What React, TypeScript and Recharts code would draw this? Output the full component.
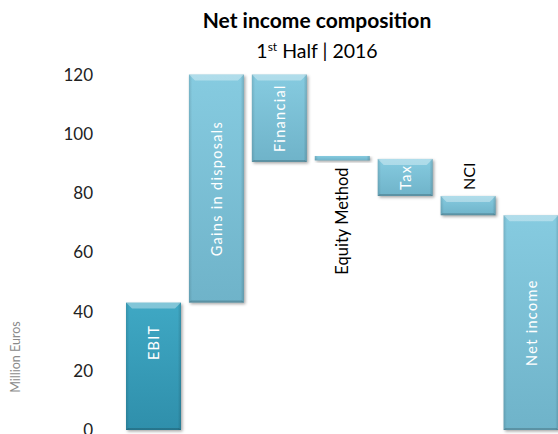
import React from 'react';
import { BarChart, Bar, XAxis, YAxis } from 'recharts';

const categories = ['EBIT', 'Gains in disposals', 'Financial', 'Equity Method', 'Tax', 'NCI', 'Net income'];
const barLow = [0, 43, 90.5, 91, 79, 72.5, 0];
const barHigh = [43, 120, 120, 92.5, 91.5, 79, 72.5];
const yTicks = [0, 20, 40, 60, 80, 100, 120];
// label placement: 'in' = white inside, 'below' / 'above' = black outside
const labelPlacement = ['in', 'in', 'in', 'below', 'in', 'above', 'in'];

const data = categories.map((name, i) => ({ name, range: [barLow[i], barHigh[i]], place: labelPlacement[i] }));

const FONT = 'Lato, "Open Sans", sans-serif';

const BevelBar = (props: any) => {
  const { x, y, width, height, index, payload } = props;
  if (width == null || height == null) return null;
  const h = Math.abs(height);
  const top = height < 0 ? y + height : y;
  const dark = index === 0;
  const grad = dark ? 'url(#gDark)' : 'url(#gLight)';
  const bev = Math.min(6, h / 3);
  const cx = x + width / 2;
  const cy = top + h / 2 + (index === 0 ? -24 : 0);
  let label: React.ReactNode = null;
  if (payload.place === 'in') {
    label = (
      <text x={cx} y={cy} transform={`rotate(-90 ${cx} ${cy})`} textAnchor="middle" dominantBaseline="central"
        fill="#ffffff" fontSize={14.5} letterSpacing={1.3} fontFamily={FONT}>{payload.name}</text>
    );
  } else if (payload.place === 'below') {
    const ty = top + h + 7;
    label = (
      <text x={cx} y={ty} transform={`rotate(-90 ${cx} ${ty})`} textAnchor="end" dominantBaseline="central"
        fill="#000000" fontSize={16.5} fontFamily={FONT}>{payload.name}</text>
    );
  } else if (payload.place === 'above') {
    const ty = top - 6;
    label = (
      <text x={cx} y={ty} transform={`rotate(-90 ${cx} ${ty})`} textAnchor="start" dominantBaseline="central"
        fill="#000000" fontSize={16} fontFamily={FONT}>{payload.name}</text>
    );
  }
  return (
    <g>
      <rect x={x + 1.5} y={top + 1.5} width={width} height={h} fill="rgba(0,0,0,0.35)" filter="url(#blur)" />
      <rect x={x} y={top} width={width} height={h} fill={grad} />
      <rect x={x} y={top} width={width} height={h} fill="url(#gSide)" />
      {h > 8 && (
        <>
          <polygon points={`${x},${top} ${x + width},${top} ${x + width - bev},${top + bev} ${x + bev},${top + bev}`}
            fill="rgba(255,255,255,0.35)" />
          <polygon points={`${x},${top + h} ${x + width},${top + h} ${x + width - 2},${top + h - 2} ${x + 2},${top + h - 2}`}
            fill="rgba(0,0,0,0.18)" />
        </>
      )}
      {label}
    </g>
  );
};

export default function App() {
  return (
    <div style={{ position: 'absolute', left: 0, top: 0, width: 558, height: 434, overflow: 'hidden', background: '#fff' }}>
      <BarChart width={566} height={434} data={data} margin={{ top: 74.5, right: 3.5, bottom: 4, left: 0 }} barSize={55}>
        <defs>
          <linearGradient id="gLight" x1="0" y1="0" x2="0" y2="1">
            <stop offset="0%" stopColor="#86cbe0" />
            <stop offset="100%" stopColor="#6fb3c9" />
          </linearGradient>
          <linearGradient id="gDark" x1="0" y1="0" x2="0" y2="1">
            <stop offset="0%" stopColor="#3fa8c4" />
            <stop offset="100%" stopColor="#2f8fab" />
          </linearGradient>
          <linearGradient id="gSide" x1="0" y1="0" x2="1" y2="0">
            <stop offset="0%" stopColor="rgba(0,0,0,0.12)" />
            <stop offset="6%" stopColor="rgba(0,0,0,0)" />
            <stop offset="94%" stopColor="rgba(0,0,0,0)" />
            <stop offset="100%" stopColor="rgba(0,0,0,0.15)" />
          </linearGradient>
          <filter id="blur" x="-20%" y="-20%" width="140%" height="140%">
            <feGaussianBlur stdDeviation="1.5" />
          </filter>
        </defs>
        <XAxis dataKey="name" hide />
        <YAxis domain={[0, 120]} ticks={yTicks} interval={0} width={122} axisLine={false} tickLine={false}
          tickSize={0} tickMargin={29}
          tick={{ fontSize: 17, fill: '#222', fontFamily: FONT }} />
        <Bar dataKey="range" isAnimationActive={false} shape={BevelBar} />
      </BarChart>
      <svg width={558} height={434} style={{ position: 'absolute', left: 0, top: 0, pointerEvents: 'none' }}>
        <text x={317} y={28} textAnchor="middle" fontFamily={FONT} fontWeight="bold" fontSize={21} fill="#000">Net income composition</text>
        <text x={317} y={58} textAnchor="middle" fontFamily={FONT} fontSize={19.5} fill="#000">
          1<tspan fontSize={12} dy={-7}>st</tspan><tspan dy={7}> Half | 2016</tspan>
        </text>
        <text x={15} y={357} transform="rotate(-90 15 357)" textAnchor="middle" dominantBaseline="central"
          fontFamily={FONT} fontSize={12.5} fill="#8a8a8a">Million Euros</text>
      </svg>
    </div>
  );
}
